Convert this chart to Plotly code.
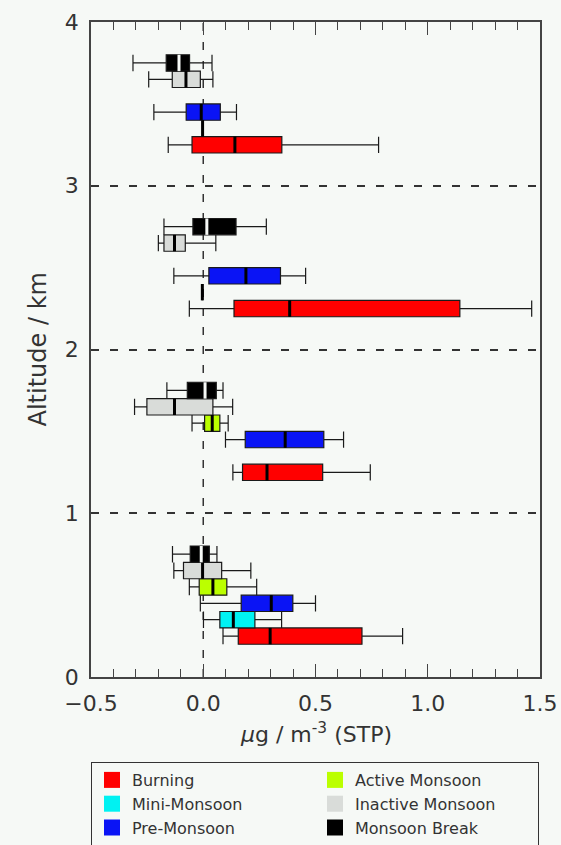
import plotly.graph_objects as go

# ---------------- data ----------------
levels = [0, 1, 2, 3]  # km bands
seasons = ["Burning", "Mini-Monsoon", "Pre-Monsoon",
           "Active Monsoon", "Inactive Monsoon", "Monsoon Break"]
colors = {
    "Burning": "#ff0000",
    "Mini-Monsoon": "#00f2f2",
    "Pre-Monsoon": "#0a14f5",
    "Active Monsoon": "#bbff00",
    "Inactive Monsoon": "#d9dcd9",
    "Monsoon Break": "#000000",
}

# per season, per level (0-1, 1-2, 2-3, 3-4 km); None = no data
burning_lo = [0.088, 0.132, -0.062, -0.156]
burning_q1 = [0.156, 0.175, 0.137, -0.050]
burning_med = [0.298, 0.284, 0.385, 0.141]
burning_q3 = [0.707, 0.532, 1.143, 0.350]
burning_hi = [0.888, 0.744, 1.463, 0.781]

mini_lo = [0.001, None, -0.004, -0.003]
mini_q1 = [0.074, None, -0.004, -0.003]
mini_med = [0.134, None, -0.004, -0.003]
mini_q3 = [0.230, None, -0.004, -0.003]
mini_hi = [0.349, None, -0.004, -0.003]

pre_lo = [-0.013, 0.099, -0.131, -0.220]
pre_q1 = [0.169, 0.187, 0.025, -0.076]
pre_med = [0.303, 0.365, 0.190, -0.009]
pre_q3 = [0.399, 0.537, 0.344, 0.076]
pre_hi = [0.500, 0.625, 0.456, 0.148]

active_lo = [-0.062, -0.050, None, None]
active_q1 = [-0.018, 0.006, None, None]
active_med = [0.043, 0.040, None, None]
active_q3 = [0.105, 0.074, None, None]
active_hi = [0.238, 0.111, None, None]

inactive_lo = [-0.131, -0.306, -0.200, -0.243]
inactive_q1 = [-0.088, -0.251, -0.175, -0.138]
inactive_med = [-0.003, -0.128, -0.128, -0.077]
inactive_q3 = [0.082, 0.043, -0.080, -0.013]
inactive_hi = [0.212, 0.131, 0.056, 0.043]

break_lo = [-0.137, -0.162, -0.175, -0.313]
break_q1 = [-0.058, -0.071, -0.046, -0.165]
break_med = [-0.009, 0.008, 0.016, -0.108]
break_q3 = [0.027, 0.058, 0.146, -0.061]
break_hi = [0.061, 0.088, 0.281, 0.039]

stats = {
    "Burning": (burning_lo, burning_q1, burning_med, burning_q3, burning_hi),
    "Mini-Monsoon": (mini_lo, mini_q1, mini_med, mini_q3, mini_hi),
    "Pre-Monsoon": (pre_lo, pre_q1, pre_med, pre_q3, pre_hi),
    "Active Monsoon": (active_lo, active_q1, active_med, active_q3, active_hi),
    "Inactive Monsoon": (inactive_lo, inactive_q1, inactive_med, inactive_q3, inactive_hi),
    "Monsoon Break": (break_lo, break_q1, break_med, break_q3, break_hi),
}

x_ticks = [-0.5, 0.0, 0.5, 1.0, 1.5]
y_ticks = [0, 1, 2, 3, 4]
legend_order = ["Burning", "Active Monsoon", "Mini-Monsoon",
                "Inactive Monsoon", "Pre-Monsoon", "Monsoon Break"]

# ---------------- figure ----------------
BG = "#f6f9f6"
FONT = "DejaVu Sans"
TXT = "#333333"
BOXW = 0.1
W, H = 561, 845
ML, MR, MT, MB = 91, 21, 22, 168
PW, PH = W - ML - MR, H - MT - MB

fig = go.Figure()

for i, s in enumerate(seasons):
    lo, q1, med, q3, hi = stats[s]
    idx = [k for k in range(len(levels)) if med[k] is not None]
    ypos = [levels[k] + 0.25 + 0.1 * i for k in idx]
    fig.add_trace(go.Box(
        orientation="h",
        y=ypos,
        lowerfence=[lo[k] for k in idx],
        q1=[q1[k] for k in idx],
        median=[med[k] for k in idx],
        q3=[q3[k] for k in idx],
        upperfence=[hi[k] for k in idx],
        fillcolor=colors[s],
        line=dict(color="#1a1a1a", width=1.2),
        width=BOXW,
        whiskerwidth=1,
        boxpoints=False,
        showlegend=False,
        hoverinfo="skip",
    ))
    # thick median marks
    mx, my = [], []
    for k, yp in zip(idx, ypos):
        mx += [med[k], med[k], None]
        my += [yp - BOXW / 2, yp + BOXW / 2, None]
    fig.add_trace(go.Scatter(
        x=mx, y=my, mode="lines",
        line=dict(color=BG if s == "Monsoon Break" else "#000000", width=3),
        showlegend=False, hoverinfo="skip",
    ))

for s in legend_order:
    fig.add_trace(go.Scatter(
        x=[None], y=[None], mode="markers", name=s,
        marker=dict(symbol="square", size=16, color=colors[s],
                    line=dict(width=0)),
    ))

fig.add_vline(x=0, line=dict(color="#333333", width=1.5, dash="8px,11px"),
              layer="below")

fig.update_xaxes(
    range=[-0.5, 1.5], tickvals=x_ticks, tickformat=".1f",
    ticks="inside", ticklen=13, tickwidth=1.3, tickcolor="#444444",
    minor=dict(dtick=0.1, ticks="inside", ticklen=8, tickwidth=1.3,
               tickcolor="#444444", showgrid=False),
    showgrid=False, zeroline=False,
    showline=True, linecolor="#444444", linewidth=1.5, mirror="ticks",
    ticklabelstandoff=6,
    tickfont=dict(family=FONT, size=22, color=TXT),
)
fig.update_yaxes(
    range=[0, 4], tickvals=y_ticks, ticks="", ticklabelstandoff=6,
    showgrid=True, gridcolor="#333333", gridwidth=1.5, griddash="8px,11px",
    zeroline=False,
    showline=True, linecolor="#444444", linewidth=1.5, mirror=True,
    tickfont=dict(family=FONT, size=22, color=TXT),
)

fig.add_annotation(
    text="Altitude / km", textangle=-90, showarrow=False,
    xref="paper", yref="paper", x=(37.5 - ML) / PW, y=(H - MB - 350) / PH,
    xanchor="center", yanchor="middle",
    font=dict(family=FONT, size=24, color=TXT),
)
fig.add_annotation(
    text="<i>μ</i>g / m<sup>-3</sup> (STP)", showarrow=False,
    xref="paper", yref="paper", x=0.5, y=(H - MB - 733) / PH,
    xanchor="center", yanchor="middle",
    font=dict(family=FONT, size=22, color=TXT),
)

fig.update_layout(
    width=W, height=H,
    margin=dict(l=ML, r=MR, t=MT, b=MB, autoexpand=False),
    paper_bgcolor=BG, plot_bgcolor=BG,
    boxmode="overlay",
    showlegend=True,
    legend=dict(
        orientation="h", x=0.0, y=(H - MB - 762) / PH,
        xanchor="left", yanchor="top",
        entrywidth=178, entrywidthmode="pixels",
        bgcolor=BG, bordercolor="#333333", borderwidth=1,
        itemsizing="trace",
        font=dict(family=FONT, size=16, color=TXT),
    ),
)

fig.write_html("out.html")
